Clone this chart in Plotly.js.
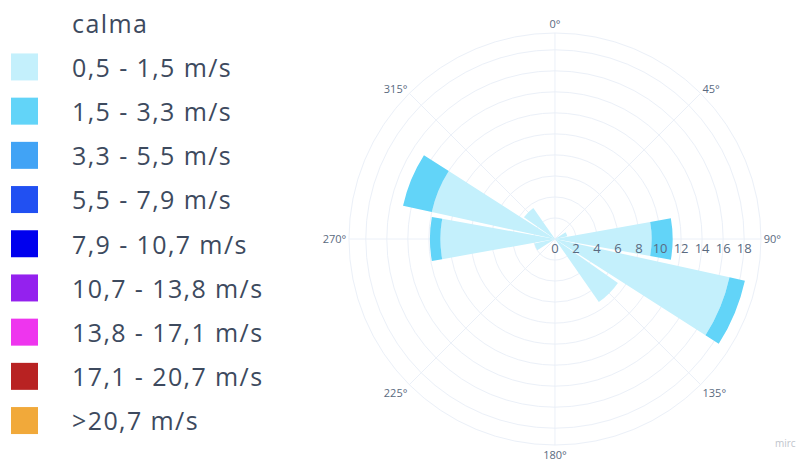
<!DOCTYPE html>
<html>
<head>
<meta charset="utf-8">
<script src="https://cdn.plot.ly/plotly-3.0.1.min.js"></script>
<style>
html,body{margin:0;padding:0;background:#fff;}
#chart{width:798px;height:464px;}
#chart .legendtext{letter-spacing:1.4px;}
#chart .legend, #chart .legend g, #chart .legend .scrollbox{clip-path:none !important;}
</style>
</head>
<body>
<div id="chart"></div>
<script>
// Directions (degrees)
const thetaLight = [67.5, 90, 112.5, 135, 247.5, 270, 292.5, 315];
const rLight = [1.2, 9.2, 17.0, 7.3, 2.0, 10.9, 12.0, 3.6];
const thetaMid = [90, 112.5, 270, 292.5];
const rMid = [2.0, 1.5, 1.0, 2.8];

const binNames = ['calma', '0,5 - 1,5 m/s', '1,5 - 3,3 m/s', '3,3 - 5,5 m/s', '5,5 - 7,9 m/s',
  '7,9 - 10,7 m/s', '10,7 - 13,8 m/s', '13,8 - 17,1 m/s', '17,1 - 20,7 m/s', '>20,7 m/s'];
const binColors = ['rgba(0,0,0,0)', '#c4f0fc', '#62d4f8', '#41a3f5', '#2150f2', '#0000ee',
  '#9421ee', '#ee35ee', '#b82222', '#f1a93a'];
const emptyTheta = [0];
const emptyR = [0];

const traces = binNames.map((name, i) => {
  let theta = emptyTheta, r = emptyR;
  if (i === 1) { theta = thetaLight; r = rLight; }
  if (i === 2) { theta = thetaMid; r = rMid; }
  return {
    type: 'barpolar', name: name, theta: theta, r: r,
    legendgroup: 'g' + i,
    marker: {color: binColors[i], line: {width: 0}},
    hoverinfo: 'none'
  };
});

const layout = {
  width: 798, height: 464,
  margin: {l: 0, r: 0, t: 0, b: 0},
  paper_bgcolor: '#fff',
  font: {family: '"Open Sans", sans-serif', color: '#2a3f5f'},
  showlegend: true,
  legend: {
    x: 0, y: 1.0, xanchor: 'left', yanchor: 'top',
    font: {size: 25, color: '#3d4a5e'},
    itemwidth: 62, tracegroupgap: 8.7,
    bgcolor: 'rgba(0,0,0,0)'
  },
  polar: {
    domain: {x: [0.4373, 0.9536], y: [0.0409, 0.9289]},
    bgcolor: '#fff',
    barmode: 'stack',
    angularaxis: {
      rotation: 90, direction: 'clockwise', dtick: 45, ticksuffix: '°',
      gridcolor: '#EBF0F8', linecolor: '#EBF0F8', ticks: '',
      tickfont: {size: 11, color: '#5a6a80'}
    },
    radialaxis: {
      range: [0, 19.6], dtick: 2, gridcolor: '#EBF0F8', linecolor: '#EBF0F8',
      showline: false, ticks: '', tickfont: {size: 13, color: '#5a6a80'}
    }
  },
  annotations: [{
    text: 'mirc', xref: 'paper', yref: 'paper', x: 1.0, y: 0.045,
    xanchor: 'right', yanchor: 'middle', showarrow: false,
    font: {size: 10, color: '#c0c4cc'}
  }]
};

function fixLegend() {
  document.querySelectorAll('#chart .legend .legendpoints path').forEach(p => {
    let t = p.getAttribute('data-orig-t');
    if (t === null) { t = p.getAttribute('transform') || ''; p.setAttribute('data-orig-t', t); }
    p.setAttribute('transform', t + ' translate(-11.5,0) scale(2.25)');
  });
  document.querySelectorAll('#chart .legend [clip-path]').forEach(el => el.removeAttribute('clip-path'));
}

const gd = document.getElementById('chart');
Plotly.newPlot(gd, traces, layout, {displayModeBar: false, staticPlot: true}).then(() => {
  fixLegend();
  gd.on('plotly_afterplot', fixLegend);
  setTimeout(fixLegend, 50);
});
</script>
</body>
</html>
